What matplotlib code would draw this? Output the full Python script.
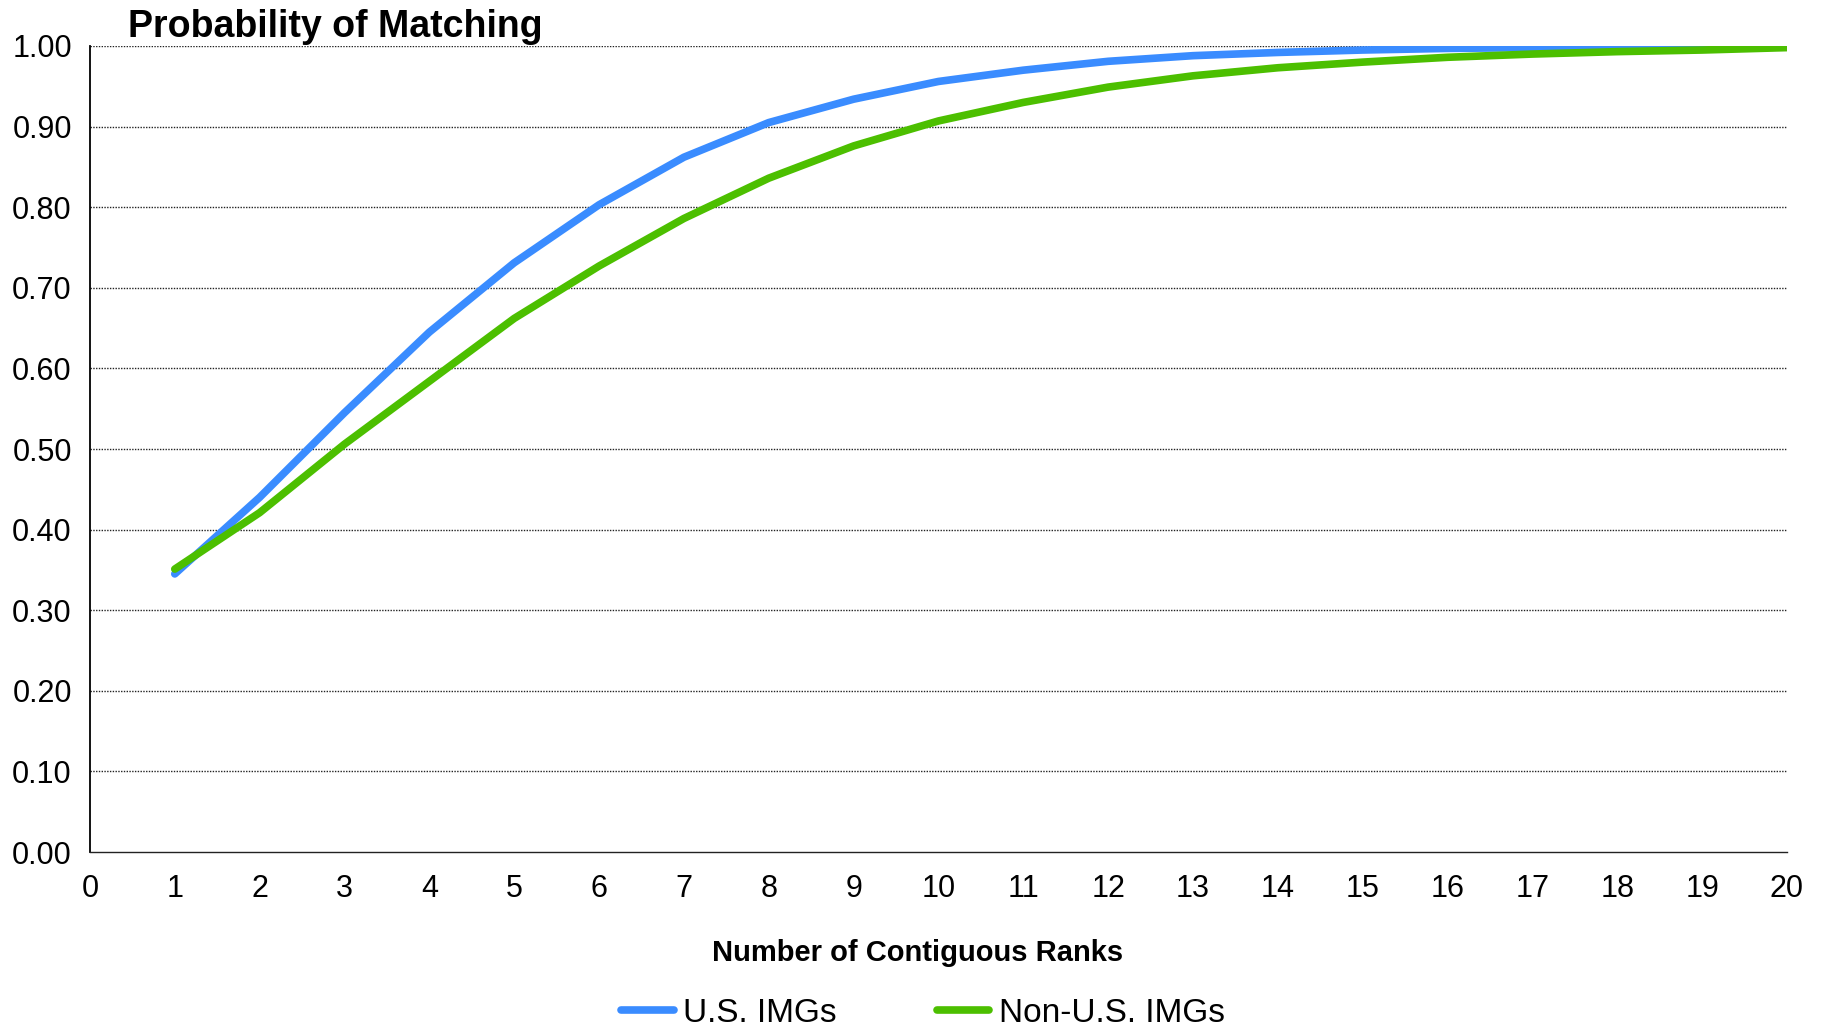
import matplotlib
matplotlib.use('Agg')
import matplotlib.pyplot as plt

plt.rcParams['font.family'] = ['Liberation Sans', 'DejaVu Sans']

# Данные
ranks = list(range(1, 21))
us_imgs = [0.345, 0.440, 0.545, 0.645, 0.731, 0.803, 0.862, 0.905, 0.934, 0.956,
           0.970, 0.981, 0.988, 0.992, 0.995, 0.997, 0.998, 0.999, 0.999, 1.000]
non_us_imgs = [0.351, 0.421, 0.506, 0.584, 0.662, 0.727, 0.786, 0.836, 0.876, 0.907,
               0.930, 0.949, 0.963, 0.973, 0.980, 0.986, 0.990, 0.993, 0.995, 0.998]
y_ticks = [i / 10 for i in range(11)]

fig = plt.figure(figsize=(18.24, 10.29), dpi=100)
ax = fig.add_axes([0.0493, 0.172, 0.9304, 0.7833])

ax.plot(ranks, us_imgs, color='#3a8cff', lw=5.5, solid_capstyle='round', label='U.S. IMGs')
ax.plot(ranks, non_us_imgs, color='#4cbf00', lw=5.5, solid_capstyle='round', label='Non-U.S. IMGs')

ax.set_xlim(0, 20)
ax.set_ylim(0, 1)
ax.set_xticks(range(0, 21))
ax.set_yticks(y_ticks)
ax.set_yticklabels([f'{v:.2f}' for v in y_ticks])
ax.tick_params(length=0, labelsize=22)
ax.tick_params(axis='x', pad=16)
ax.tick_params(axis='y', pad=13)

for v in y_ticks[1:]:
    ax.axhline(v, color='#222222', lw=1.0, ls=(0, (1, 1)), zorder=0)

for s in ['top', 'right']:
    ax.spines[s].set_visible(False)
ax.spines['left'].set_color('black')
ax.spines['left'].set_linewidth(1.3)
ax.spines['bottom'].set_color('#222222')
ax.spines['bottom'].set_linewidth(1.0)

fig.text(0.070, 0.974, 'Probability of Matching', fontsize=27, fontweight='bold',
         ha='left', va='center')
fig.text(0.503, 0.074, 'Number of Contiguous Ranks', fontsize=21, fontweight='bold',
         ha='center', va='center')

fig.legend(loc='center', bbox_to_anchor=(0.506, 0.0155), ncol=2, frameon=False,
           fontsize=24, handlelength=1.58, handletextpad=0.28, columnspacing=3.0)

fig.savefig('out.png', dpi=100)
